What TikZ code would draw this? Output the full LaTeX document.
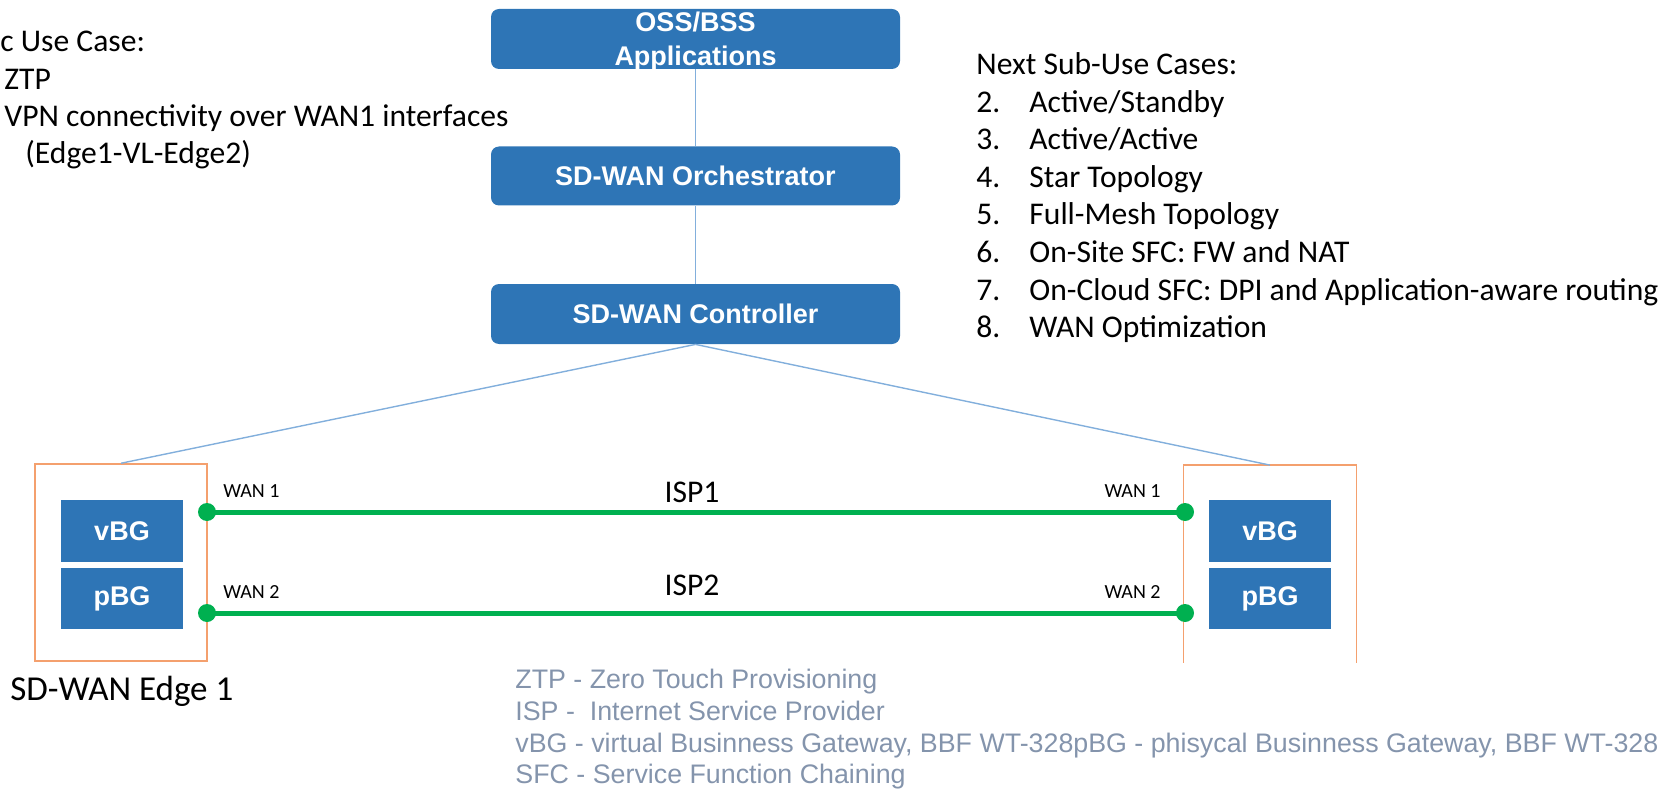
\documentclass[tikz,border=0pt]{standalone}
\usepackage{fontspec}
\setmainfont{Carlito}
\newfontfamily\arialfont{Liberation Sans}
\usepackage{tikz}
\usetikzlibrary{positioning, calc}
\definecolor{boxblue}{RGB}{46,117,182}
\definecolor{linkblue}{RGB}{130,175,220}
\definecolor{edgeorange}{RGB}{244,160,110}
\definecolor{wangreen}{RGB}{0,176,80}
\definecolor{notegrey}{RGB}{132,148,172}

\tikzset{
    mgmtbox/.style={fill=boxblue, rounded corners=4pt, minimum width=204.5pt,
        minimum height=30pt, inner sep=0pt, align=center, text=white,
        font=\arialfont\bfseries\fontsize{13.5}{15.5}\selectfont},
    gwbox/.style={fill=boxblue, minimum width=61pt, minimum height=31pt, inner sep=0pt,
        text=white, font=\arialfont\bfseries\fontsize{13.5}{15.5}\selectfont},
    edgebox/.style={minimum width=86pt, minimum height=98.5pt, inner sep=0pt},
    link/.style={linkblue, line width=0.7pt},
    wanline/.style={wangreen, line width=2.5pt},
    port/.style={circle, fill=wangreen, minimum size=9pt, inner sep=0pt},
    txt/.style={inner sep=0pt, anchor=base west, font=\fontsize{15.8}{19}\selectfont},
    wanlbl/.style={inner sep=0pt, font=\fontsize{10}{12}\selectfont},
    note/.style={inner sep=0pt, anchor=base west, text=notegrey,
        font=\arialfont\fontsize{13.4}{15}\selectfont}
}

\begin{document}
\begin{tikzpicture}[x=0.5pt, y=-0.5pt]
    \useasboundingbox (0,0) rectangle (1664,791);

    % Management stack
    \node[mgmtbox, text depth=0pt] (oss) at (695.5,39) {OSS/BSS\\[1.5pt]Applications};
    \node[mgmtbox, minimum height=29.5pt] (orch) at (695.5,176) {SD-WAN Orchestrator};
    \node[mgmtbox] (ctrl) at (695.5,314) {SD-WAN Controller};
    \draw[link] (oss) -- (orch);
    \draw[link] (orch) -- (ctrl);

    % Edge sites
    \node[edgebox, draw=edgeorange, line width=0.75pt] (edgeL) at (121,562.5) {};
    \node[edgebox] (edgeR) at (1270,564) {};
    \draw[edgeorange, line width=0.75pt] (edgeR.south west) |- (edgeR.north east) -- (edgeR.south east);
    \node[gwbox] (vbgL) at (122,531) {vBG};
    \node[gwbox, minimum height=30.5pt] (pbgL) at (122,598.5) {pBG};
    \node[gwbox] (vbgR) at (1270,531) {vBG};
    \node[gwbox, minimum height=30.5pt] (pbgR) at (1270,598.5) {pBG};
    \node[txt, font=\fontsize{17.5}{20}\selectfont] (edgeLname) at (10,700) {SD-WAN Edge 1};

    % Controller to edges
    \draw[link] (ctrl.south) -- (edgeL.north);
    \draw[link] (ctrl.south) -- (edgeR.north);

    % WAN links
    \node[port] (w1L) at (207,512) {};
    \node[port] (w2L) at (207,613) {};
    \node[port] (w1R) at (1185,512) {};
    \node[port] (w2R) at (1185,613) {};
    \draw[wanline] (w1L.center) -- (w1R.center);
    \draw[wanline] (w2L.center) -- (w2R.center);
    \node[wanlbl, anchor=base west] (l1L) at (223,497) {WAN 1};
    \node[wanlbl, anchor=base west] (l2L) at (223,598) {WAN 2};
    \node[wanlbl, anchor=base east] (l1R) at (1161,497) {WAN 1};
    \node[wanlbl, anchor=base east] (l2R) at (1161,598) {WAN 2};
    \node[txt, anchor=base] (isp1) at (692,502) {ISP1};
    \node[txt, anchor=base] (isp2) at (692,595) {ISP2};

    % Use cases
    \node[txt] (uc) at (0,52) {c Use Case:};
    \node[txt] (uc1) at (4,90) {ZTP};
    \node[txt] (uc2) at (4,127) {VPN connectivity over WAN1 interfaces};
    \node[txt] (uc3) at (25,164) {(Edge1-VL-Edge2)};

    \node[txt] (next) at (976,75) {Next Sub-Use Cases:};
    \foreach \n/\t [count=\i] in {2/{Active/Standby}, 3/{Active/Active}, 4/{Star Topology},
        5/{Full-Mesh Topology}, 6/{On-Site SFC: FW and NAT},
        7/{On-Cloud SFC: DPI and Application-aware routing}, 8/{WAN Optimization}} {
        \node[txt] (num\n) at (976,75+37.5*\i) {\n.};
        \node[txt] (case\n) at (1029,75+37.5*\i) {\t};
    }

    % Abbreviations
    \node[note] (ab1) at (515,688) {ZTP - Zero Touch Provisioning};
    \node[note] (ab2) at (515,720) {ISP -~ Internet Service Provider};
    \node[note] (ab3) at (515,752) {vBG - virtual Businness Gateway, BBF WT-328pBG - phisycal Businness Gateway, BBF WT-328};
    \node[note] (ab4) at (515,783) {SFC - Service Function Chaining};
\end{tikzpicture}
\end{document}
